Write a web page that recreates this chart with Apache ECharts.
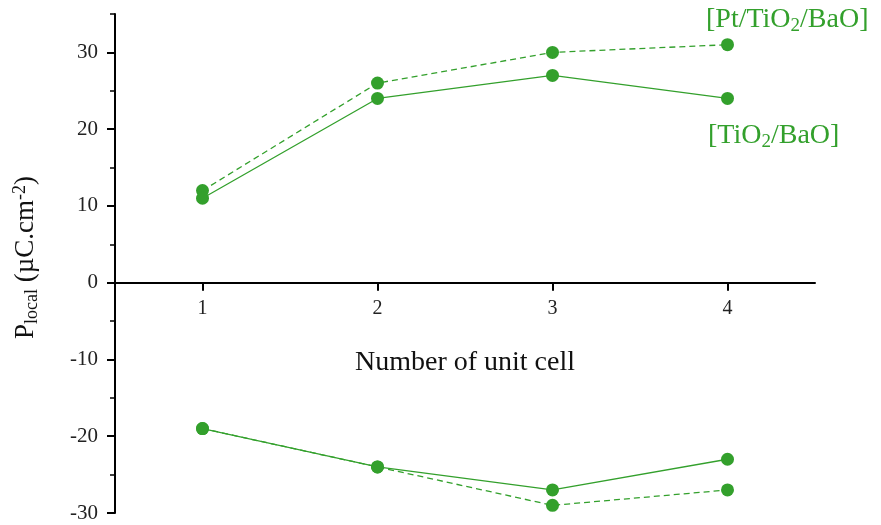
<!DOCTYPE html>
<html>
<head>
<meta charset="utf-8">
<script src="https://cdn.jsdelivr.net/npm/echarts@6/dist/echarts.min.js"></script>
<style>
  html, body { margin: 0; padding: 0; background: #fff; }
  #container { width: 881px; height: 525px; }
</style>
</head>
<body>
<div id="container"></div>
<script>
// unit cells
var cells = [1, 2, 3, 4];
// [TiO2/BaO] - solid line
var tioUpper = [11, 24, 27, 24];
var tioLower = [-19, -24, -27, -23];
// [Pt/TiO2/BaO] - dashed line
var ptUpper = [12, 26, 30, 31];
var ptLower = [-19, -24, -29, -27];
// tick labels
var xTicks = [1, 2, 3, 4];
var yTicks = [-30, -20, -10, 0, 10, 20, 30];

var green = '#33a02c';
var serif = 'Liberation Serif';

var gridTop = 14, gridBottom = 12, H = 525;
var yMin = -30, yMax = 35;
// shift the x axis up from the grid bottom to y = 0
var zeroOffset = -(H - gridTop - gridBottom) * (0 - yMin) / (yMax - yMin);

function pairs(vals) {
    return cells.map(function (c, i) { return [c, vals[i]]; });
}

function makeSeries(vals, dashed) {
    return {
        type: 'line',
        data: pairs(vals),
        symbol: 'circle',
        symbolSize: 13,
        showSymbol: true,
        silent: true,
        itemStyle: { color: green },
        lineStyle: { color: green, width: 1.3, type: dashed ? [6, 4] : 'solid' },
        z: dashed ? 2 : 3
    };
}

var dom = document.getElementById('container');
var myChart = echarts.init(dom);

var option = {
    animation: false,
    backgroundColor: '#fff',
    grid: { left: 115, right: 66, top: gridTop, bottom: gridBottom, containLabel: false, outerBoundsMode: 'none' },
    xAxis: {
        type: 'value',
        min: 0.5,
        max: 4.5,
        position: 'bottom',
        offset: zeroOffset,
        axisLine: { onZero: false, lineStyle: { color: '#000', width: 2 } },
        axisTick: { show: true, inside: false, length: 8, lineStyle: { color: '#000', width: 2 }, customValues: xTicks },
        axisLabel: { customValues: xTicks, margin: 16, color: '#222', fontFamily: serif, fontSize: 20 },
        splitLine: { show: false },
        name: 'Number of unit cell',
        nameLocation: 'middle',
        nameGap: 66,
        nameTextStyle: { color: '#111', fontFamily: serif, fontSize: 28 }
    },
    yAxis: [{
        type: 'value',
        min: yMin,
        max: yMax,
        axisLine: { show: true, onZero: false, lineStyle: { color: '#000', width: 2 } },
        axisTick: { show: true, length: 8, lineStyle: { color: '#000', width: 2 }, customValues: yTicks },
        axisLabel: { customValues: yTicks, margin: 17, color: '#222', fontFamily: serif, fontSize: 21 },
        splitLine: { show: false },
        name: '{n|P}{s|local}{n| (µC.cm}{p|-2}{n|)}',
        nameLocation: 'middle',
        nameRotate: 90,
        nameGap: 74,
        nameTextStyle: {
            color: '#111',
            fontFamily: serif,
            padding: [0, 0, 0, 12],
            rich: {
                n: { fontFamily: serif, fontSize: 27, color: '#111' },
                s: { fontFamily: serif, fontSize: 18, color: '#111', verticalAlign: 'bottom', padding: [12, 0, 0, 0] },
                p: { fontFamily: serif, fontSize: 18, color: '#111', verticalAlign: 'top', padding: [0, 0, 12, 0] }
            }
        }
    }, {
        // minor ticks every 5
        type: 'value',
        min: yMin,
        max: yMax,
        interval: 5,
        position: 'left',
        axisLine: { show: false, onZero: false },
        axisTick: { show: true, length: 5, lineStyle: { color: '#000', width: 1.5 } },
        axisLabel: { show: false },
        splitLine: { show: false }
    }],
    graphic: [{
        type: 'text',
        left: 706,
        top: 6,
        style: {
            text: '{n|[Pt/TiO}{s|2}{n|/BaO]}',
            rich: {
                n: { fontFamily: serif, fontSize: 28, fill: green },
                s: { fontFamily: serif, fontSize: 19, fill: green, verticalAlign: 'bottom', padding: [12, 0, 0, 0] }
            }
        }
    }, {
        type: 'text',
        left: 708,
        top: 122,
        style: {
            text: '{n|[TiO}{s|2}{n|/BaO]}',
            rich: {
                n: { fontFamily: serif, fontSize: 28, fill: green },
                s: { fontFamily: serif, fontSize: 19, fill: green, verticalAlign: 'bottom', padding: [12, 0, 0, 0] }
            }
        }
    }],
    series: [
        makeSeries(tioUpper, false),
        makeSeries(tioLower, false),
        makeSeries(ptUpper, true),
        makeSeries(ptLower, true)
    ]
};

myChart.setOption(option);
</script>
</body>
</html>
